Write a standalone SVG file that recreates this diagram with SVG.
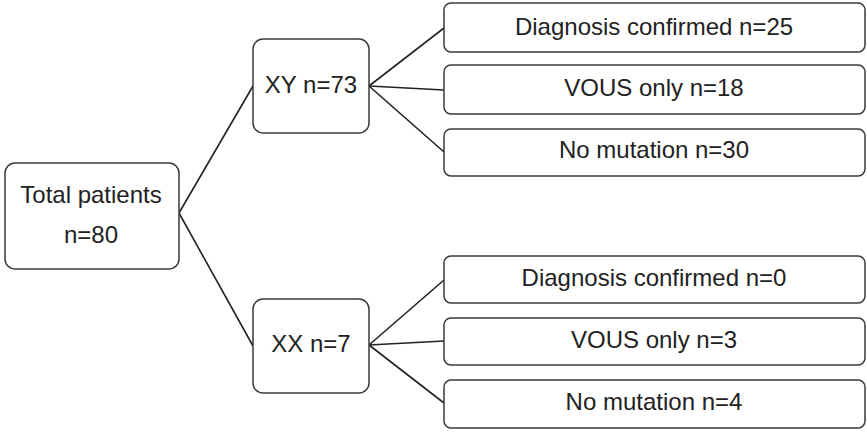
<svg xmlns="http://www.w3.org/2000/svg" width="867" height="433" viewBox="0 0 867 433">
<style>
.box{fill:#fff;stroke:#3a3a3a;stroke-width:1.5}
.t{font-family:"Liberation Sans",Arial,sans-serif;font-size:24px;fill:#222;text-anchor:middle}
.c{stroke:#222;stroke-width:1.6;fill:none}
</style>
<rect width="867" height="433" fill="#fff"/>
<g id="connectors">
<line class="c" x1="179" y1="213" x2="253" y2="86"/>
<line class="c" x1="179" y1="213" x2="253" y2="346"/>
<line class="c" x1="369" y1="86" x2="444" y2="28"/>
<line class="c" x1="369" y1="86" x2="444" y2="90"/>
<line class="c" x1="369" y1="86" x2="444" y2="152"/>
<line class="c" x1="369" y1="345" x2="444" y2="280"/>
<line class="c" x1="369" y1="345" x2="444" y2="341"/>
<line class="c" x1="369" y1="345" x2="444" y2="403"/>
</g>
<g id="total">
<rect class="box" x="5" y="163" width="174" height="106" rx="10"/>
<text class="t" x="91" y="203">Total patients</text>
<text class="t" x="91" y="243">n=80</text>
</g>
<g id="xy">
<rect class="box" x="253" y="39" width="116" height="94" rx="10"/>
<text class="t" x="311" y="93">XY n=73</text>
</g>
<g id="xx">
<rect class="box" x="253" y="299" width="116" height="94" rx="10"/>
<text class="t" x="311" y="352">XX n=7</text>
</g>
<g id="xy_diag">
<rect class="box" x="444" y="3" width="421" height="49" rx="7"/>
<text class="t" x="654" y="35">Diagnosis confirmed n=25</text>
</g>
<g id="xy_vous">
<rect class="box" x="444" y="65" width="421" height="49" rx="7"/>
<text class="t" x="654" y="96">VOUS only n=18</text>
</g>
<g id="xy_none">
<rect class="box" x="444" y="129" width="421" height="47" rx="7"/>
<text class="t" x="654" y="158">No mutation n=30</text>
</g>
<g id="xx_diag">
<rect class="box" x="444" y="256" width="421" height="47" rx="7"/>
<text class="t" x="654" y="286">Diagnosis confirmed n=0</text>
</g>
<g id="xx_vous">
<rect class="box" x="444" y="318" width="421" height="47" rx="7"/>
<text class="t" x="654" y="348">VOUS only n=3</text>
</g>
<g id="xx_none">
<rect class="box" x="444" y="380" width="421" height="48" rx="7"/>
<text class="t" x="654" y="410">No mutation n=4</text>
</g>
</svg>
